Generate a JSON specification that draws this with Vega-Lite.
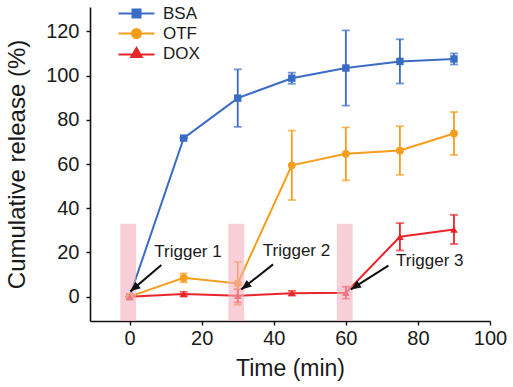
{
  "$schema": "https://vega.github.io/schema/vega-lite/v6.json",
  "width": 400,
  "height": 314,
  "autosize": {"type": "none"},
  "padding": {"left": 90, "top": 7, "right": 23, "bottom": 66},
  "background": "white",
  "config": {
    "view": {"stroke": null},
    "font": "Liberation Sans",
    "axis": {
      "domainColor": "#111111",
      "domainWidth": 1.6,
      "tickColor": "#111111",
      "tickWidth": 1.4,
      "tickSize": 4,
      "labelColor": "#1a1a1a",
      "titleColor": "#1a1a1a",
      "labelFont": "Liberation Sans",
      "titleFont": "Liberation Sans",
      "labelFontSize": 20,
      "titleFontWeight": "normal",
      "grid": false
    }
  },
  "datasets": {
    "series": [
      {"s": "BSA", "t": 0, "v": 0, "e": 0},
      {"s": "BSA", "t": 15, "v": 71.7, "e": 0},
      {"s": "BSA", "t": 30, "v": 89.8, "e": 13},
      {"s": "BSA", "t": 45, "v": 98.8, "e": 2.5},
      {"s": "BSA", "t": 60, "v": 103.4, "e": 17},
      {"s": "BSA", "t": 75, "v": 106.4, "e": 10},
      {"s": "BSA", "t": 90, "v": 107.5, "e": 2.5},
      {"s": "OTF", "t": 0, "v": 0, "e": 0},
      {"s": "OTF", "t": 15, "v": 8.5, "e": 2},
      {"s": "OTF", "t": 30, "v": 6, "e": 9.7},
      {"s": "OTF", "t": 45, "v": 59.4, "e": 15.7},
      {"s": "OTF", "t": 60, "v": 64.6, "e": 12},
      {"s": "OTF", "t": 75, "v": 66.1, "e": 11},
      {"s": "OTF", "t": 90, "v": 73.8, "e": 9.7},
      {"s": "DOX", "t": 0, "v": 0, "e": 0},
      {"s": "DOX", "t": 15, "v": 1.2, "e": 1},
      {"s": "DOX", "t": 30, "v": 0.4, "e": 3},
      {"s": "DOX", "t": 45, "v": 1.6, "e": 1},
      {"s": "DOX", "t": 60, "v": 1.8, "e": 2.7},
      {"s": "DOX", "t": 75, "v": 27.1, "e": 6.2},
      {"s": "DOX", "t": 90, "v": 30.4, "e": 6.6}
    ],
    "triggers": [
      {"x0": -2.6, "x1": 1.8, "y0": -11, "y1": 33},
      {"x0": 27.4, "x1": 31.8, "y0": -11, "y1": 33},
      {"x0": 57.5, "x1": 61.9, "y0": -11, "y1": 33}
    ],
    "arrows": [
      {"label": "Trigger 1", "x": 8.8, "y": 14.3, "x2": 0.2, "y2": 2.4, "a": 230.6, "tx": 16.2, "ty": 20.1},
      {"label": "Trigger 2", "x": 39.8, "y": 14.6, "x2": 31.0, "y2": 3.3, "a": 232, "tx": 46.3, "ty": 20.6},
      {"label": "Trigger 3", "x": 71.8, "y": 14.0, "x2": 61.4, "y2": 3.3, "a": 237.5, "tx": 83.3, "ty": 16.1}
    ]
  },
  "layer": [
    {
      "data": {"name": "series"},
      "mark": {"type": "line", "strokeWidth": 2},
      "encoding": {
        "x": {
          "field": "t", "type": "quantitative",
          "title": "Time (min)",
          "scale": {"domain": [-11, 100], "nice": false, "zero": false},
          "axis": {
            "titleFontSize": 23,
            "titlePadding": 9,
            "values": [0, 10, 20, 30, 40, 50, 60, 70, 80, 90, 100],
            "labelExpr": "datum.value % 20 === 0 ? datum.label : ''",
            "labelPadding": 3,
            "labelFlush": false,
            "labelOverlap": false
          }
        },
        "y": {
          "field": "v", "type": "quantitative",
          "title": "Cumulative release (%)",
          "scale": {"domain": [-11, 131], "nice": false, "zero": false},
          "axis": {
            "titleFontSize": 24,
            "titlePadding": 16,
            "values": [0, 10, 20, 30, 40, 50, 60, 70, 80, 90, 100, 110, 120, 130],
            "labelExpr": "datum.value % 20 === 0 && datum.value <= 120 ? datum.label : ''",
            "labelPadding": 7,
            "labelFlush": false,
            "labelOverlap": false
          }
        },
        "color": {
          "field": "s", "type": "nominal",
          "scale": {"domain": ["BSA", "OTF", "DOX"], "range": ["#3a6cc6", "#f59d1c", "#e8252b"]},
          "legend": {
            "title": null,
            "orient": "none",
            "legendX": 38,
            "legendY": -2,
            "symbolSize": 100,
            "labelFontSize": 17,
            "labelFont": "Liberation Sans",
            "labelColor": "#1a1a1a",
            "labelOffset": 18,
            "rowPadding": 2,
            "encode": {
              "symbols": {
                "update": {
                  "shape": {"signal": "datum.value === 'BSA' ? 'M-3.6,0H3.6M-0.8,-0.8H0.8V0.8H-0.8Z' : datum.value === 'OTF' ? 'M-3.6,0H3.6M0.9,0A0.9,0.9 0 1,1 -0.9,0A0.9,0.9 0 1,1 0.9,0Z' : 'M-3.6,0.2H3.6M0,-1.1L1.05,0.7L-1.05,0.7Z'"},
                  "fill": {"signal": "scale('color', datum.value)"},
                  "stroke": {"signal": "scale('color', datum.value)"},
                  "strokeWidth": {"value": 2},
                  "opacity": {"value": 1}
                }
              }
            }
          }
        }
      }
    },
    {
      "data": {"name": "series"},
      "mark": {"type": "errorbar", "ticks": {"size": 8}, "thickness": 1.8},
      "encoding": {
        "x": {"field": "t", "type": "quantitative", "title": "Time (min)"},
        "y": {"field": "v", "type": "quantitative", "title": "Cumulative release (%)"},
        "yError": {"field": "e"},
        "color": {"field": "s", "type": "nominal"}
      }
    },
    {
      "data": {"name": "series"},
      "transform": [{"filter": "datum.s === 'BSA'"}],
      "mark": {"type": "point", "filled": true, "size": 55, "opacity": 1, "shape": "square"},
      "encoding": {
        "x": {"field": "t", "type": "quantitative", "title": "Time (min)"},
        "y": {"field": "v", "type": "quantitative", "title": "Cumulative release (%)"},
        "color": {"field": "s", "type": "nominal"}
      }
    },
    {
      "data": {"name": "series"},
      "transform": [{"filter": "datum.s === 'OTF'"}],
      "mark": {"type": "point", "filled": true, "size": 60, "opacity": 1, "shape": "circle"},
      "encoding": {
        "x": {"field": "t", "type": "quantitative", "title": "Time (min)"},
        "y": {"field": "v", "type": "quantitative", "title": "Cumulative release (%)"},
        "color": {"field": "s", "type": "nominal"}
      }
    },
    {
      "data": {"name": "series"},
      "transform": [{"filter": "datum.s === 'DOX'"}],
      "mark": {"type": "point", "filled": true, "size": 55, "opacity": 1, "shape": "triangle-up"},
      "encoding": {
        "x": {"field": "t", "type": "quantitative", "title": "Time (min)"},
        "y": {"field": "v", "type": "quantitative", "title": "Cumulative release (%)"},
        "color": {"field": "s", "type": "nominal"}
      }
    },
    {
      "data": {"name": "triggers"},
      "mark": {"type": "rect", "color": "#f4aebd", "opacity": 0.6},
      "encoding": {
        "x": {"field": "x0", "type": "quantitative", "title": "Time (min)"},
        "x2": {"field": "x1"},
        "y": {"field": "y0", "type": "quantitative", "title": "Cumulative release (%)"},
        "y2": {"field": "y1"}
      }
    },
    {
      "data": {"name": "arrows"},
      "mark": {"type": "rule", "color": "#111111", "strokeWidth": 2},
      "encoding": {
        "x": {"field": "x", "type": "quantitative", "title": "Time (min)"},
        "y": {"field": "y", "type": "quantitative", "title": "Cumulative release (%)"},
        "x2": {"field": "x2"},
        "y2": {"field": "y2"}
      }
    },
    {
      "data": {"name": "arrows"},
      "mark": {"type": "point", "filled": true, "color": "#111111", "opacity": 1, "size": 400, "shape": "M0,0L0.42,1L-0.42,1Z"},
      "encoding": {
        "x": {"field": "x2", "type": "quantitative", "title": "Time (min)"},
        "y": {"field": "y2", "type": "quantitative", "title": "Cumulative release (%)"},
        "angle": {"field": "a", "type": "quantitative", "scale": null}
      }
    },
    {
      "data": {"name": "arrows"},
      "mark": {"type": "text", "fontSize": 17, "font": "Liberation Sans", "color": "#1a1a1a", "align": "center", "baseline": "middle"},
      "encoding": {
        "x": {"field": "tx", "type": "quantitative", "title": "Time (min)"},
        "y": {"field": "ty", "type": "quantitative", "title": "Cumulative release (%)"},
        "text": {"field": "label"}
      }
    }
  ]
}
